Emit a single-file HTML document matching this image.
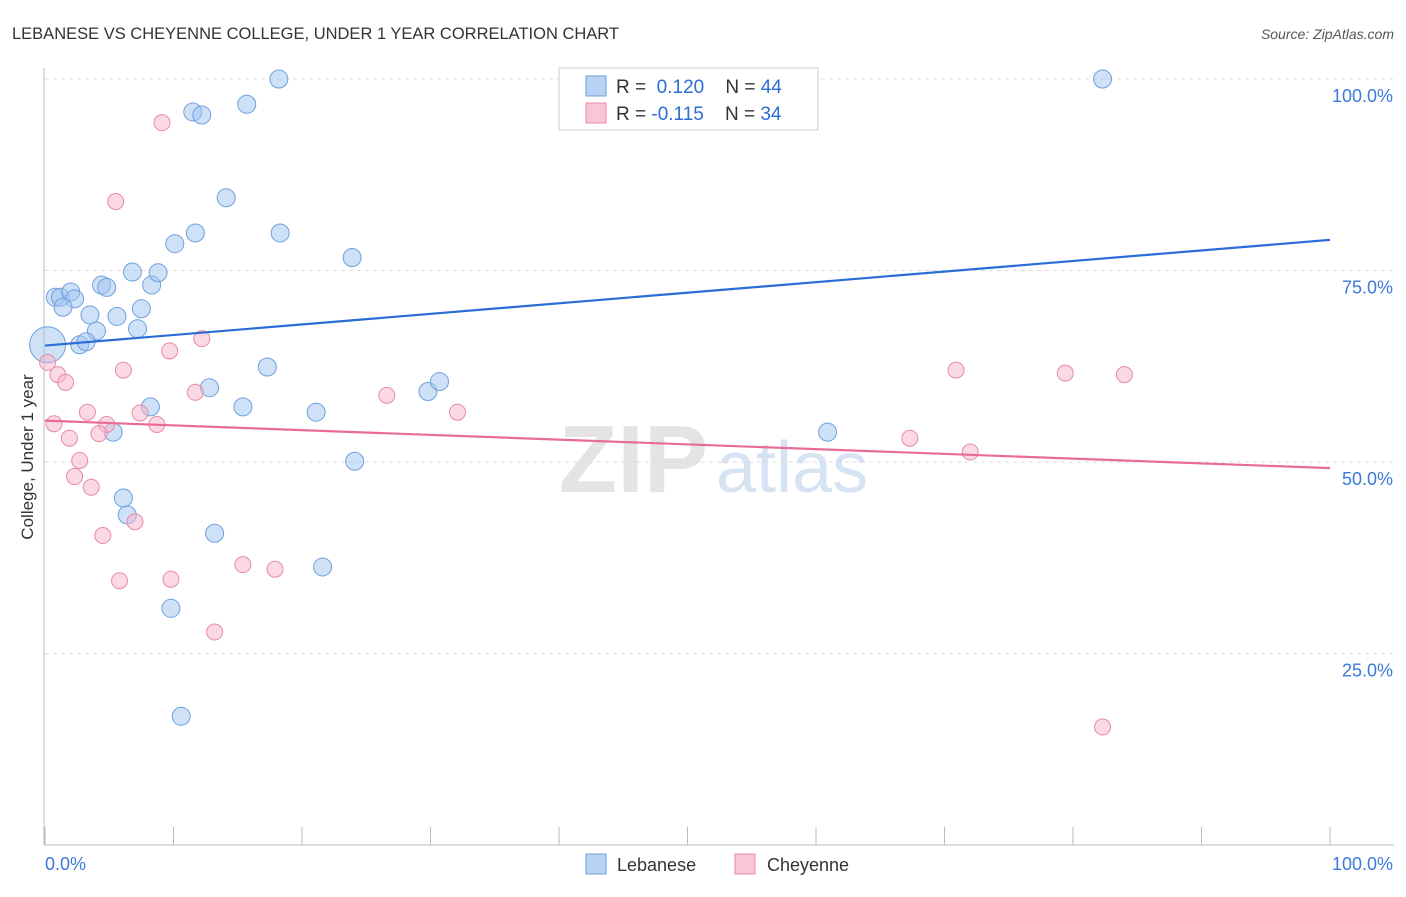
<!DOCTYPE html>
<html><head><meta charset="utf-8">
<style>
body{margin:0;background:#fff;font-family:"Liberation Sans",sans-serif;}
svg text{font-family:"Liberation Sans",sans-serif;}
</style></head>
<body>
<svg id="chart" width="1406" height="892" xmlns="http://www.w3.org/2000/svg">
<text x="12" y="39" font-size="16.5" fill="#333">LEBANESE VS CHEYENNE COLLEGE, UNDER 1 YEAR CORRELATION CHART</text>
<text x="1394" y="39" font-size="14" fill="#555" text-anchor="end" font-style="italic">Source: ZipAtlas.com</text>
<text x="708" y="492" font-size="96" fill="#e4e4e4" text-anchor="end" font-family="Liberation Serif" font-weight="bold">ZIP</text>
<text x="716" y="492" font-size="72" fill="#d6e3f3">atlas</text>
<g id="grid"></g>
<g id="axes"></g>
<text transform="translate(33,457) rotate(-90)" font-size="17" fill="#333" text-anchor="middle">College, Under 1 year</text>
<g id="marks"></g>
<g id="legend">
<rect x="559" y="68" width="259" height="62" fill="#fff" stroke="#ccc"/>
<rect x="586" y="76" width="20" height="20" fill="#b8d2f3" stroke="#6fa0dc"/>
<rect x="586" y="103" width="20" height="20" fill="#f8c6d6" stroke="#e88aa8"/>
<text x="616" y="93" font-size="19" fill="#333">R = <tspan fill="#2a6dd6">&#160;0.120</tspan>&#160;&#160;&#160; N = <tspan fill="#2a6dd6">44</tspan></text>
<text x="616" y="120" font-size="19" fill="#333">R = <tspan fill="#2a6dd6">-0.115</tspan>&#160;&#160;&#160; N = <tspan fill="#2a6dd6">34</tspan></text>
</g>
<g>
<rect x="586" y="854" width="20" height="20" fill="#b8d2f3" stroke="#6fa0dc"/>
<text x="617" y="871" font-size="18" fill="#333">Lebanese</text>
<rect x="735" y="854" width="20" height="20" fill="#f8c6d6" stroke="#e88aa8"/>
<text x="767" y="871" font-size="18" fill="#333">Cheyenne</text>
</g>
</svg>
<script>
const yTicks=[25,50,75,100];
const yTickLabels=["25.0%","50.0%","75.0%","100.0%"];
const lebX=[0.2,0.8,1.2,2,2.3,1.4,3.5,4,2.7,3.2,4.4,4.8,5.6,6.8,7.2,7.5,8.3,8.8,10.1,11.7,14.1,11.5,12.2,15.7,18.2,18.3,23.9,17.3,12.8,15.4,21.1,8.2,5.3,6.1,6.4,13.2,9.8,10.6,21.6,24.1,29.8,30.7,60.9,82.3];
const lebY=[65.3,71.5,71.5,72.2,71.3,70.2,69.2,67.1,65.3,65.7,73.1,72.8,69,74.8,67.4,70,73.1,74.7,78.5,79.9,84.5,95.7,95.3,96.7,100,79.9,76.7,62.4,59.7,57.2,56.5,57.2,53.9,45.3,43.1,40.7,30.9,16.8,36.3,50.1,59.2,60.5,53.9,100];
const cheX=[9.1,5.5,12.2,9.7,0.2,1,1.6,6.1,11.7,3.3,7.4,8.7,0.7,4.8,1.9,4.2,2.7,2.3,3.6,7,4.5,5.8,9.8,15.4,17.9,13.2,26.6,32.1,70.9,79.4,84,67.3,72,82.3];
const cheY=[94.3,84,66.1,64.5,63,61.4,60.4,62,59.1,56.5,56.4,54.9,55,54.9,53.1,53.7,50.2,48.1,46.7,42.2,40.4,34.5,34.7,36.6,36,27.8,58.7,56.5,62,61.6,61.4,53.1,51.3,15.4];
const lebSize=[18,9,9,9,9,9,9,9,9,9,9,9,9,9,9,9,9,9,9,9,9,9,9,9,9,9,9,9,9,9,9,9,9,9,9,9,9,9,9,9,9,9,9,9];
const blueLine=[65.2,79.0];
const pinkLine=[55.4,49.2];
const X=v=>45+v*12.85, Y=v=>845-v*7.66;
const NS="http://www.w3.org/2000/svg";
function mk(tag,attrs,parent){const e=document.createElementNS(NS,tag);for(const k in attrs)e.setAttribute(k,attrs[k]);document.getElementById(parent).appendChild(e);return e;}
yTicks.forEach((t,i)=>{
 const g=mk('line',{x1:45,x2:1394,y1:Y(t),y2:Y(t),stroke:'#ddd','stroke-dasharray':'4,4'},'grid');
 
 
 const tx=mk('text',{x:1393,y:Y(t)+23,'font-size':18,fill:'#3b7ad8','text-anchor':'end'},'axes');
 tx.textContent=yTickLabels[i];
 
 
});
const ax=mk('line',{x1:44,x2:44,y1:68,y2:845,stroke:'#bbb'},'axes');


const bx=mk('line',{x1:44,x2:1394,y1:845,y2:845,stroke:'#bbb'},'axes');


for(let i=0;i<=10;i++){const t=mk('line',{x1:X(i*10),x2:X(i*10),y1:827,y2:845,stroke:'#bbb'},'axes');
 
 }
const xl=mk('text',{x:45,y:870,'font-size':18,fill:'#3b7ad8'},'axes');xl.textContent='0.0%';


const xr=mk('text',{x:1393,y:870,'font-size':18,fill:'#3b7ad8','text-anchor':'end'},'axes');xr.textContent='100.0%';


lebX.forEach((v,i)=>{const c=mk('circle',{cx:X(v),cy:Y(lebY[i]),r:lebSize[i],fill:'rgba(160,195,240,0.5)',stroke:'#6fa0dc','stroke-width':1},'marks');
 
 });
cheX.forEach((v,i)=>{const c=mk('circle',{cx:X(v),cy:Y(cheY[i]),r:8,fill:'rgba(245,180,203,0.5)',stroke:'#e88aa8','stroke-width':1},'marks');
 
 });
const bl=mk('line',{x1:X(0),x2:X(100),y1:Y(blueLine[0]),y2:Y(blueLine[1]),stroke:'#2a6dd6','stroke-width':2.2},'marks');


const pl=mk('line',{x1:X(0),x2:X(100),y1:Y(pinkLine[0]),y2:Y(pinkLine[1]),stroke:'#e86c97','stroke-width':2.2},'marks');


</script>
</body></html>
